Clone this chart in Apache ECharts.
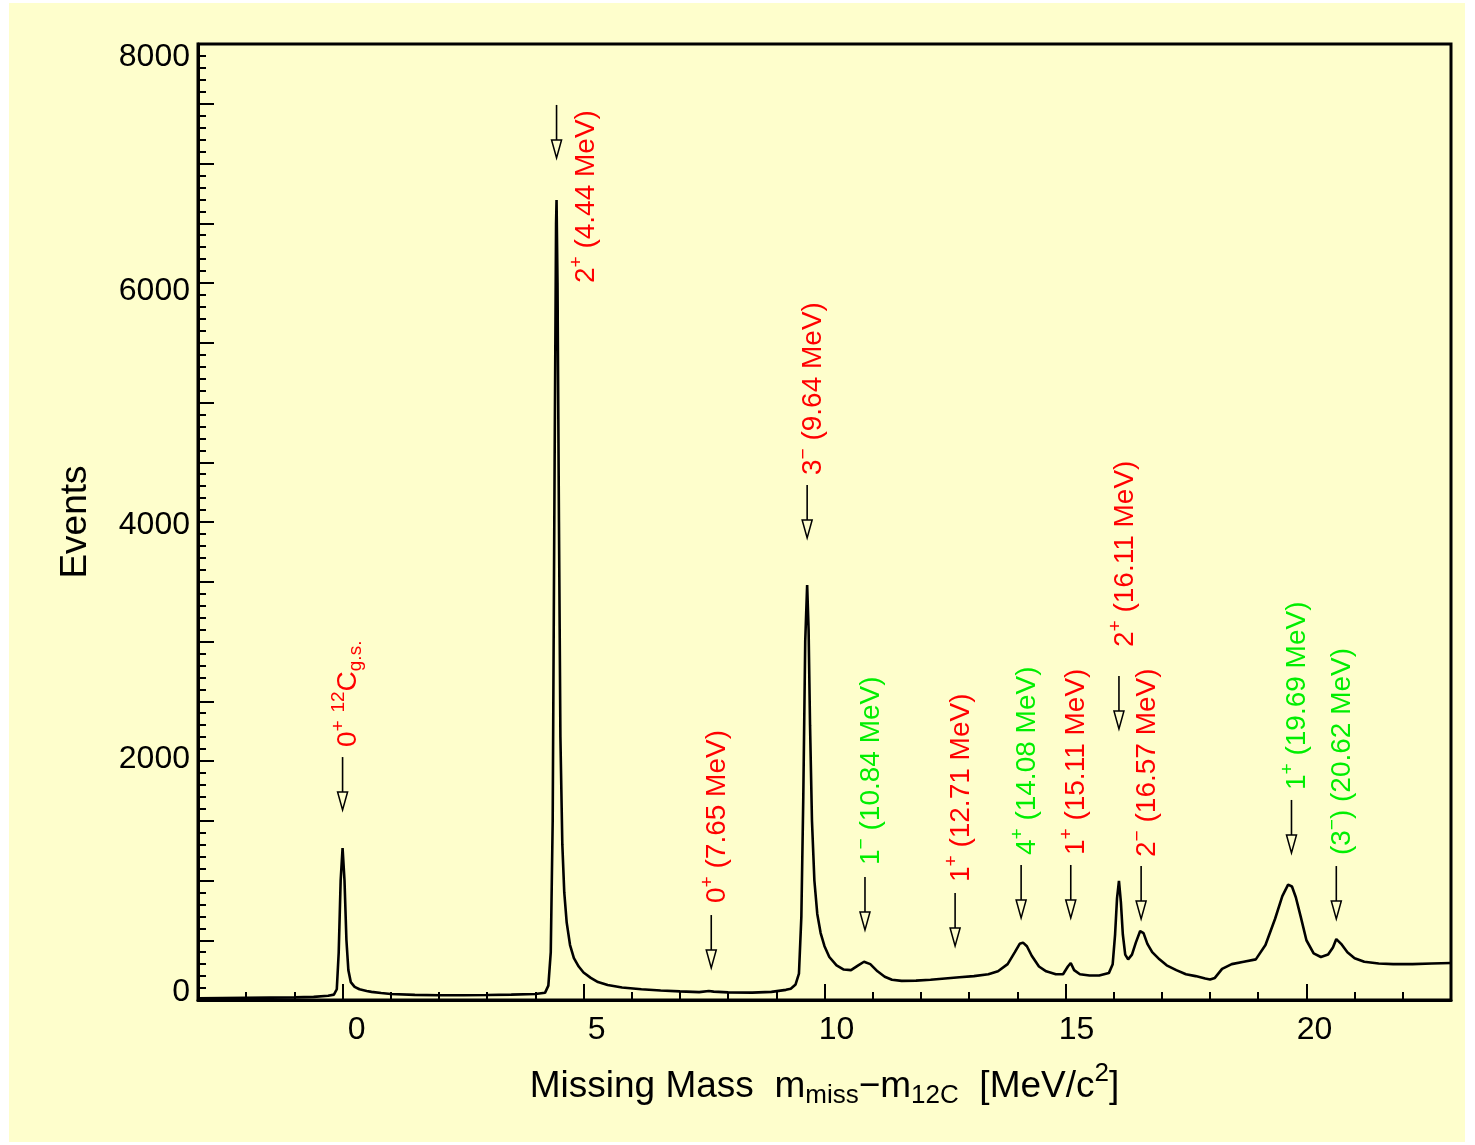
<!DOCTYPE html>
<html><head><meta charset="utf-8">
<script src="https://cdn.jsdelivr.net/npm/echarts@6/dist/echarts.min.js"></script>
<style>
html,body{margin:0;padding:0;background:#ffffff;}
#bg{position:absolute;left:9px;top:3px;width:1456px;height:1139px;background:#fefecc;}
#chart{position:absolute;left:0;top:0;width:1475px;height:1145px;}
</style></head><body>
<div id="bg"></div><div id="chart"></div>
<script>
// ---------------- data ----------------
const energy = [
 -3.0,-2.5,-2.0,-1.5,-1.0,-0.6,-0.3,-0.18,-0.12,-0.08,-0.04,0.0,0.04,0.08,0.12,0.17,0.25,0.35,0.5,0.6,0.8,1.0,1.5,2.0,2.5,3.0,3.5,4.0,
 4.2,4.27,4.32,4.36,4.40,4.43,4.44,4.46,4.49,4.52,4.56,4.60,4.65,4.72,4.8,4.9,5.0,5.15,5.3,5.5,5.8,6.2,6.6,7.0,7.4,7.6,7.7,8.0,8.5,8.9,
 9.2,9.3,9.4,9.47,9.52,9.56,9.60,9.64,9.67,9.70,9.74,9.79,9.85,9.92,10.0,10.1,10.25,10.4,10.55,10.7,10.82,10.95,11.1,11.25,11.4,11.6,
 11.9,12.2,12.5,12.8,13.1,13.4,13.6,13.8,13.95,14.05,14.12,14.2,14.3,14.45,14.6,14.8,14.95,15.05,15.11,15.18,15.3,15.5,15.7,15.9,15.98,
 16.03,16.07,16.11,16.15,16.19,16.24,16.3,16.38,16.46,16.55,16.62,16.7,16.8,16.95,17.1,17.3,17.5,17.7,17.9,18.0,18.1,18.25,18.45,18.7,
 18.95,19.15,19.35,19.5,19.62,19.7,19.78,19.88,20.0,20.15,20.3,20.45,20.55,20.62,20.72,20.85,21.0,21.2,21.5,21.8,22.2,22.6,23.0
];
const events = [
 14,16,18,20,22,26,36,45,90,400,1000,1272,1000,500,250,150,110,90,75,68,58,50,43,40,40,42,45,50,
 60,120,400,1500,4500,6500,6694,6000,4000,2200,1300,900,650,460,350,280,230,185,150,125,105,90,80,72,66,75,70,64,62,68,
 85,95,130,220,700,1700,3000,3473,3100,2300,1500,1000,720,560,450,360,290,255,250,290,320,300,240,195,170,160,
 162,170,180,190,200,215,240,300,400,470,480,450,370,280,240,215,215,280,310,250,215,205,205,225,300,
 550,850,996,820,550,380,340,380,480,577,560,470,400,340,290,250,215,200,180,172,185,260,300,320,
 340,460,680,870,965,950,860,700,500,390,360,380,440,510,470,400,350,320,305,300,300,305,310
];

// annotation (level) markers, in data coordinates
const levelEnergy = [0.0, 4.44, 7.65, 9.64, 10.84, 12.71, 14.08, 15.11, 16.11, 16.57, 19.69, 20.62];
const arrowTop    = [2033, 7490, 711, 4310, 1029, 895, 1130, 1130, 2711, 1121, 1674, 1121];
const arrowTip    = [1590, 7046, 268, 3866, 586, 452, 686, 686, 2268, 678, 1230, 678];
const labelX      = [0.0, 4.93, 7.65, 9.64, 10.84, 12.71, 14.08, 15.11, 16.11, 16.57, 19.69, 20.62];
const labelY      = [2117, 6000, 812, 4393, 1130, 987, 1213, 1213, 2954, 1197, 1757, 1213];
const levelText = [
 '0{sup|+} {sup|12}C{sub|g.s.}',
 '2{sup|+} (4.44 MeV)',
 '0{sup|+} (7.65 MeV)',
 '3{sup|\u2212} (9.64 MeV)',
 '1{sup|\u2212} (10.84 MeV)',
 '1{sup|+} (12.71 MeV)',
 '4{sup|+} (14.08 MeV)',
 '1{sup|+} (15.11 MeV)',
 '2{sup|+} (16.11 MeV)',
 '2{sup|\u2212} (16.57 MeV)',
 '1{sup|+} (19.69 MeV)',
 '(3{sup|\u2212}) (20.62 MeV)'
];
const levelGroup = ['known','known','known','known','new','known','new','known','known','known','new','new'];

const xTickLabels = [0, 5, 10, 15, 20];
const yTickLabels = [0, 2000, 4000, 6000, 8000];
const xTitle = 'Missing Mass  m{sub|miss}\u2212m{sub|12C}  [MeV/c{sup|2}]';
const yTitle = 'Events';

// ---------------- styles ----------------
const FONT = '"Liberation Sans", Arial, Helvetica, sans-serif';
const BG = '#fefecc';
const groupColor = {known: '#ff0000', new: '#00ee00'};
const xLabelShift = [14, 13, 12, 11, 8];      // px, label drawing offset of the original
const yLabelShift = [-8, -2, 3, 8, 13];

const xRich = {}, yRich = {};
xTickLabels.forEach((v, i) => {
  xRich['x' + i] = {fontSize: 32, fontFamily: FONT, color: '#000', padding: [0, 0, 0, 2 * xLabelShift[i]]};
});
yTickLabels.forEach((v, i) => {
  const d = yLabelShift[i];
  yRich['y' + i] = {fontSize: 32, fontFamily: FONT, color: '#000',
    padding: d >= 0 ? [2 * d, 0, 0, 0] : [0, 0, -2 * d, 0]};
});

const annData = levelEnergy.map((e, i) => [e, arrowTop[i], arrowTip[i], labelX[i], labelY[i]]);

function renderLevel(params, api) {
  const i = params.dataIndex;
  const top = api.coord([api.value(0), api.value(1)]);
  const tip = api.coord([api.value(0), api.value(2)]);
  const lab = api.coord([api.value(3), api.value(4)]);
  const head = 18, half = 5;
  const col = groupColor[levelGroup[i]];
  return {
    type: 'group',
    children: [
      {type: 'line', shape: {x1: top[0], y1: top[1], x2: tip[0], y2: tip[1] - head},
       style: {stroke: '#000', lineWidth: 1.6}},
      {type: 'polygon', shape: {points: [[tip[0] - half, tip[1] - head], [tip[0] + half, tip[1] - head], [tip[0], tip[1]]]},
       style: {fill: BG, stroke: '#000', lineWidth: 1.5}},
      {type: 'text', x: lab[0] + 6, y: lab[1], rotation: Math.PI / 2,
       style: {
         text: levelText[i], fill: col, font: '28px ' + FONT,
         align: 'left', verticalAlign: 'middle', textAlign: 'left', textVerticalAlign: 'middle',
         rich: {
           sup: {font: '19px ' + FONT, fill: col, padding: [0, 0, 19, 0]},
           sub: {font: '19px ' + FONT, fill: col, padding: [14, 0, 0, 0]}
         }
       }}
    ]
  };
}

const chart = echarts.init(document.getElementById('chart'), null, {renderer: 'canvas'});
chart.setOption({
  animation: false,
  backgroundColor: 'transparent',
  grid: {left: 198, top: 44, width: 1253, height: 956, show: true, borderColor: '#000', borderWidth: 3, backgroundColor: 'transparent'},
  xAxis: [
    {type: 'value', min: -3, max: 23, position: 'bottom',
     name: xTitle, nameLocation: 'middle', nameGap: 61,
     nameTextStyle: {fontSize: 37, fontFamily: FONT, color: '#000',
       rich: {sub: {fontSize: 26, fontFamily: FONT, color: '#000', padding: [18, 0, 0, 0]},
              sup: {fontSize: 26, fontFamily: FONT, color: '#000', padding: [0, 0, 26, 0]}}},
     axisLine: {show: true, onZero: false, lineStyle: {color: '#000', width: 3}},
     axisTick: {show: true, inside: true, length: 16, customValues: xTickLabels, lineStyle: {color: '#000', width: 2}},
     axisLabel: {show: true, customValues: xTickLabels, margin: 14, fontSize: 32, fontFamily: FONT, color: '#000',
       formatter: v => '{x' + xTickLabels.indexOf(v) + '|' + v + '}', rich: xRich},
     splitLine: {show: false}},
    {type: 'value', min: -3, max: 23, interval: 1, position: 'bottom',
     axisLine: {show: false, onZero: false}, axisLabel: {show: false}, splitLine: {show: false},
     axisTick: {show: true, inside: true, length: 8, lineStyle: {color: '#000', width: 2}}}
  ],
  yAxis: [
    {type: 'value', min: 0, max: 8000, interval: 2000, position: 'left',
     name: yTitle, nameLocation: 'middle', nameGap: 104, nameRotate: 90,
     nameTextStyle: {fontSize: 37, fontFamily: FONT, color: '#000'},
     axisLine: {show: true, onZero: false, lineStyle: {color: '#000', width: 3}},
     axisTick: {show: true, inside: true, length: 16, lineStyle: {color: '#000', width: 2}},
     axisLabel: {show: true, margin: 8, fontSize: 32, fontFamily: FONT, color: '#000',
       formatter: v => '{y' + yTickLabels.indexOf(v) + '|' + v + '}', rich: yRich},
     splitLine: {show: false}},
    {type: 'value', min: 0, max: 8000, interval: 500, position: 'left',
     axisLine: {show: false, onZero: false}, axisLabel: {show: false}, splitLine: {show: false},
     axisTick: {show: true, inside: true, length: 16, lineStyle: {color: '#000', width: 2}},
     minorTick: {show: true, splitNumber: 5, length: 8, lineStyle: {color: '#000', width: 2}}}
  ],
  series: [
    {type: 'line', xAxisIndex: 0, yAxisIndex: 0, data: energy.map((e, i) => [e, events[i]]),
     showSymbol: false, symbol: 'none', lineStyle: {color: '#000', width: 2.6}, clip: true, z: 3},
    {type: 'custom', xAxisIndex: 0, yAxisIndex: 0, data: annData, renderItem: renderLevel, clip: false, z: 5}
  ]
});
</script>
</body></html>
